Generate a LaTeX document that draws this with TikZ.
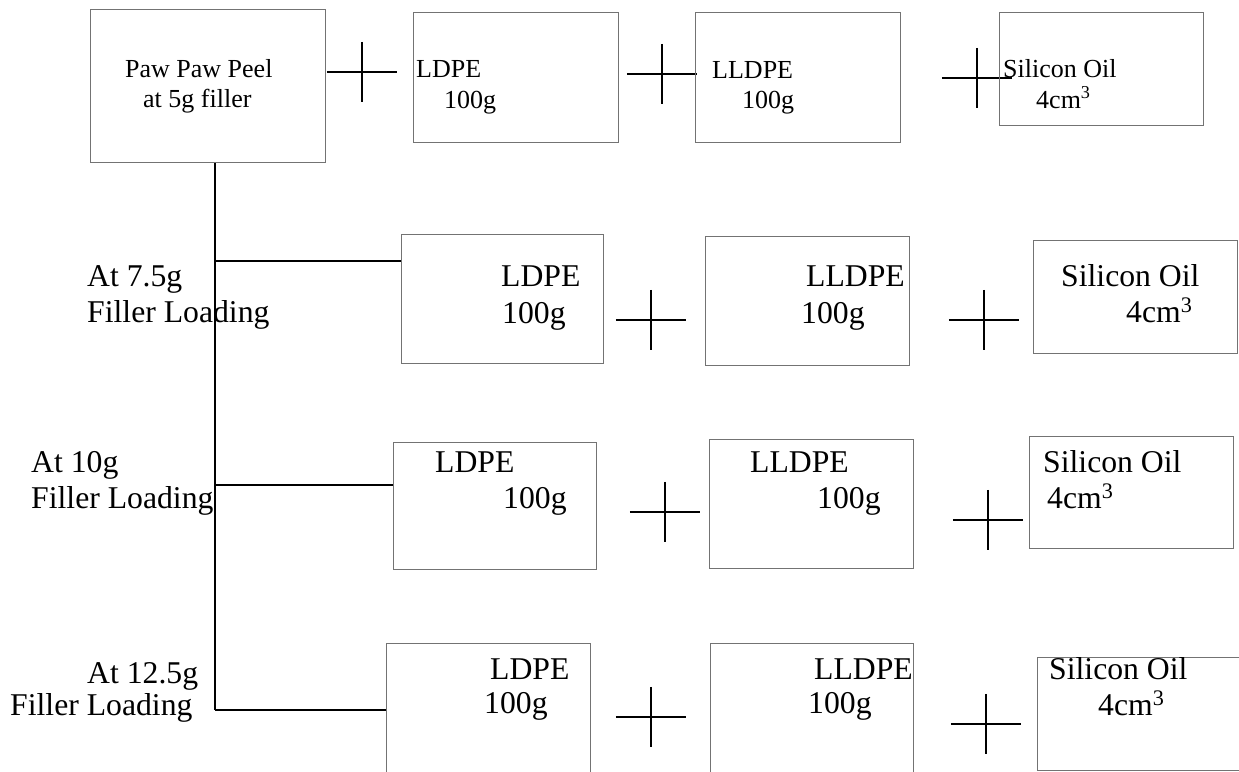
\documentclass[tikz,border=0pt]{standalone}
\usepackage{fontspec}
\setmainfont{Liberation Serif}
\tikzstyle{box} = [rectangle,draw=black!55,line width=0.9pt,anchor=north west,inner sep=0pt]

\begin{document}
\begin{tikzpicture}
		[
		x=1pt,y=-1pt,
		link/.style={line width=1.1pt},
		txt/.style={anchor=base west,inner sep=0pt,font=\fontsize{31.7}{38}\selectfont},
		small/.style={anchor=base west,inner sep=0pt,font=\fontsize{26}{31}\selectfont},
		plus/.style={
		minimum width=70pt,
		minimum height=60pt,
		inner sep=0pt,
		append after command={(\tikzlastnode.west) edge[link] (\tikzlastnode.east)
		(\tikzlastnode.north) edge[link] (\tikzlastnode.south)}}
		]
		\useasboundingbox (0,0) rectangle (1239,771);
		% first row, 5g
		\node[box,minimum width=235pt,minimum height=153pt] (peel_box) at (90,9) {};
		\node[small] (peel_1) at (125,77) {Paw Paw Peel};
		\node[small] (peel_2) at (143,107) {at 5g filler};
		\node[plus] (plus_a1) at (362,72) {};
		\node[box,minimum width=205pt,minimum height=130pt] (ldpe_a) at (413,12) {};
		\node[small] (ldpe_a1) at (416,77) {LDPE};
		\node[small] (ldpe_a2) at (444,108) {100g};
		\node[plus] (plus_a2) at (662,74) {};
		\node[box,minimum width=205pt,minimum height=130pt] (lldpe_a) at (695,12) {};
		\node[small] (lldpe_a1) at (712,78) {LLDPE};
		\node[small] (lldpe_a2) at (742,108) {100g};
		\node[plus] (plus_a3) at (977,78) {};
		\node[box,minimum width=204pt,minimum height=113pt] (oil_a) at (999,12) {};
		\node[small] (oil_a1) at (1003,77) {Silicon Oil};
		\node[small] (oil_a2) at (1036,108) {4cm\textsuperscript{3}};

		% trunk and branches
		\coordinate (trunk_end) at (215,710);
		\draw[link] (peel_box.south -| trunk_end) -- (trunk_end);

		% 7.5g
		\node[txt] (at_b1) at (87,286) {At 7.5g};
		\node[txt] (at_b2) at (87,322) {Filler Loading};
		\node[box,minimum width=202pt,minimum height=129pt] (ldpe_b) at (401,234) {};
		\coordinate (join_b) at (215,261);
		\draw[link] (join_b) -- (join_b -| ldpe_b.west);
		\node[txt] (ldpe_b1) at (501,286) {LDPE};
		\node[txt] (ldpe_b2) at (502,323) {100g};
		\node[plus] (plus_b1) at (651,320) {};
		\node[box,minimum width=204pt,minimum height=129pt] (lldpe_b) at (705,236) {};
		\node[txt] (lldpe_b1) at (806,286) {LLDPE};
		\node[txt] (lldpe_b2) at (801,323) {100g};
		\node[plus] (plus_b2) at (984,320) {};
		\node[box,minimum width=204pt,minimum height=113pt] (oil_b) at (1033,240) {};
		\node[txt] (oil_b1) at (1061,286) {Silicon Oil};
		\node[txt] (oil_b2) at (1126,322) {4cm\textsuperscript{3}};

		% 10g
		\node[txt] (at_c1) at (31,472) {At 10g};
		\node[txt] (at_c2) at (31,508) {Filler Loading};
		\node[box,minimum width=203pt,minimum height=127pt] (ldpe_c) at (393,442) {};
		\coordinate (join_c) at (215,485);
		\draw[link] (join_c) -- (join_c -| ldpe_c.west);
		\node[txt] (ldpe_c1) at (435,472) {LDPE};
		\node[txt] (ldpe_c2) at (503,508) {100g};
		\node[plus] (plus_c1) at (665,512) {};
		\node[box,minimum width=204pt,minimum height=129pt] (lldpe_c) at (709,439) {};
		\node[txt] (lldpe_c1) at (750,472) {LLDPE};
		\node[txt] (lldpe_c2) at (817,508) {100g};
		\node[plus] (plus_c2) at (988,520) {};
		\node[box,minimum width=204pt,minimum height=112pt] (oil_c) at (1029,436) {};
		\node[txt] (oil_c1) at (1043,472) {Silicon Oil};
		\node[txt] (oil_c2) at (1047,508) {4cm\textsuperscript{3}};

		% 12.5g
		\node[txt] (at_d1) at (87,683) {At 12.5g};
		\node[txt] (at_d2) at (10,715) {Filler Loading};
		\node[box,minimum width=204pt,minimum height=135pt] (ldpe_d) at (386,643) {};
		\draw[link] (trunk_end) -- (trunk_end -| ldpe_d.west);
		\node[txt] (ldpe_d1) at (490,679) {LDPE};
		\node[txt] (ldpe_d2) at (484,713) {100g};
		\node[plus] (plus_d1) at (651,717) {};
		\node[box,minimum width=203pt,minimum height=135pt] (lldpe_d) at (710,643) {};
		\node[txt] (lldpe_d1) at (814,679) {LLDPE};
		\node[txt] (lldpe_d2) at (808,713) {100g};
		\node[plus] (plus_d2) at (986,724) {};
		\node[box,minimum width=210pt,minimum height=113pt] (oil_d) at (1037,657) {};
		\node[txt] (oil_d1) at (1049,679) {Silicon Oil};
		\node[txt] (oil_d2) at (1098,715) {4cm\textsuperscript{3}};
		\end{tikzpicture}
\end{document}
